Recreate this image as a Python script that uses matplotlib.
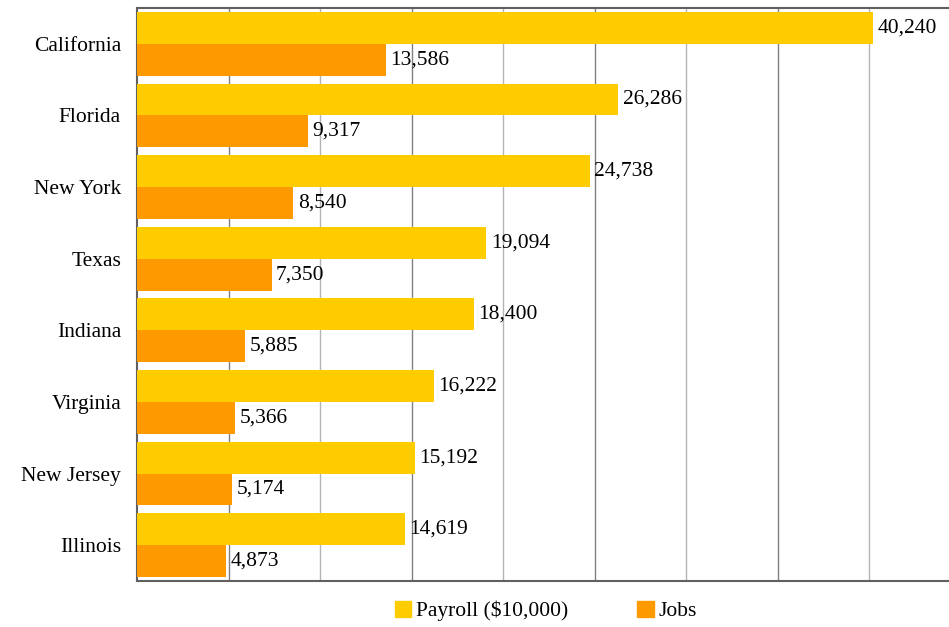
import numpy as np
import matplotlib.pyplot as plt
from matplotlib.patches import Patch

states = ["California", "Florida", "New York", "Texas",
          "Indiana", "Virginia", "New Jersey", "Illinois"]
payroll = [40240, 26286, 24738, 19094, 18400, 16222, 15192, 14619]
jobs = [13586, 9317, 8540, 7350, 5885, 5366, 5174, 4873]

gold = "#FFCC00"
orange = "#FF9900"

plt.rcParams['font.family'] = ['Liberation Serif', 'DejaVu Serif']
fs = 15.5

fig = plt.figure(figsize=(9.49, 6.27), dpi=100)
ax = fig.add_axes([137/949, 46/627, 823.5/949, 573/627])

y = np.arange(len(states))
h = 0.445
ax.barh(y - h/2, payroll, height=h, color=gold, zorder=3)
ax.barh(y + h/2, jobs, height=h, color=orange, zorder=3)

for i in range(len(states)):
    ax.text(payroll[i] + 250, y[i] - h/2, f"{payroll[i]:,}",
            va='center', ha='left', fontsize=fs, zorder=4)
    ax.text(jobs[i] + 250, y[i] + h/2, f"{jobs[i]:,}",
            va='center', ha='left', fontsize=fs, zorder=4)

ax.set_xlim(0, 45000)
ax.set_ylim(len(states) - 0.5, -0.5)
ax.set_yticks(y)
ax.set_yticklabels(states, fontsize=fs)
ax.tick_params(axis='y', length=0, pad=11.5)
ax.set_xticks([])

# vertical grid, alternating shades
for k, gx in enumerate(range(5000, 45000, 5000)):
    ax.axvline(gx, color="#808080" if k % 2 == 0 else "#b4b4b4",
               linewidth=1, zorder=1)

for side in ['left', 'top', 'bottom']:
    ax.spines[side].set_color("#606060")
    ax.spines[side].set_linewidth(1.5)
ax.spines['right'].set_visible(False)

handles = [Patch(color=gold, label="Payroll ($10,000)"),
           Patch(color=orange, label="Jobs")]
fig.legend(handles=handles, loc='center', bbox_to_anchor=(546/949, 1 - 611/627),
           ncol=2, frameon=False, fontsize=fs, handlelength=0.75,
           handleheight=0.75, handletextpad=0.25, columnspacing=3.2)

fig.savefig("out.png", dpi=100)
